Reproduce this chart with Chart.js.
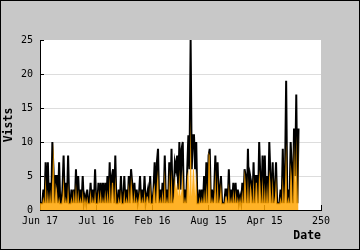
<!DOCTYPE html>
<html>
<head>
<meta charset="utf-8">
<script src="https://cdn.jsdelivr.net/npm/chart.js@4/dist/chart.umd.min.js"></script>
<style>
html,body{margin:0;padding:0;background:#c8c8c8;}
#wrap{width:360px;height:250px;position:relative;}
</style>
</head>
<body>
<div id="wrap"><canvas id="c" width="360" height="250"></canvas></div>
<script>
// x tick labels (at 0, 50, 100, 150, 200, 250)
const xTickLabels = ["Jun 17", "Jul 16", "Feb 16", "Aug 15", "Apr 15", "250"];

// Visits (black line), one value per day index 0..230
const visits = [
 1,1,1,3,1,7,1,7,1,4, 1,10,6,1,5,5,1,7,1,1,
 3,8,1,4,1,8,1,1,3,1, 3,1,6,1,5,1,3,1,5,1,
 2,1,3,1,1,4,1,3,1,6, 1,1,4,1,4,1,4,1,4,1,
 5,1,7,1,5,6,1,8,1,1, 3,1,5,1,1,5,1,3,1,5,
 1,6,4,1,4,1,3,1,2,5, 1,3,1,5,1,2,3,1,5,1,
 1,3,7,1,7,9,1,3,1,4, 1,8,1,3,1,7,1,9,1,3,
 7,6,8,3,10,3,9,10,1,3, 1,6,11,6,25,6,11,11,6,10,
 1,1,3,1,3,1,5,1,7,1, 8,9,1,3,1,3,8,1,7,1,
 3,5,1,1,1,3,3,1,6,1, 3,1,4,1,4,1,3,1,2,1,
 4,1,6,5,1,9,1,5,4,1, 7,1,5,5,1,10,5,1,8,1,
 8,1,5,1,10,5,1,7,1,3, 7,1,1,1,3,1,9,1,5,19,
 1,3,1,10,6,1,12,5,17,1, 12
];

// Visitors (orange area), one value per day index 0..230
const visitors = [
 1,1,1,2,1,5,1,3,1,3, 1,5,10,1,4,3,1,2,1,1,
 2,5,1,2,1,4,1,1,2,1, 3,1,4,1,3,1,2,1,3,1,
 2,1,2,1,1,3,1,2,1,3, 1,1,3,1,3,1,2,1,3,1,
 3,1,5,1,4,4,1,5,1,1, 2,1,3,1,1,3,1,2,1,4,
 1,5,3,1,3,1,2,1,2,3, 1,2,1,3,1,2,2,1,4,1,
 1,3,4,1,4,6,1,2,1,3, 1,6,1,2,1,6,1,6,1,2,
 5,3,4,2,6,2,3,6,1,2, 1,5,6,2,13.5,2,6,6,2,6,
 1,1,2,1,2,1,3,1,4,1, 8.5,8,1,2,1,2,6,1,5,1,
 2,4,1,1,1,2,2,1,4,1, 2,1,3,1,3,1,2,1,2,1,
 3,1,6,4,1,5,1,4,3,1, 5,1,4,4,1,6,4,1,5,1,
 4,1,4,1,6,4,1,5,1,2, 5,1,1,1,2,1,5,1,4,10,
 1,2,1,7,5,1,10,4,11,1, 11.5
];

const yTicks = [0, 5, 10, 15, 20, 25];

const MONO = "'DejaVu Sans Mono', monospace";

const bgPlugin = {
  id: 'bg',
  beforeDraw(chart) {
    const ctx = chart.ctx, a = chart.chartArea;
    ctx.save();
    ctx.fillStyle = '#c8c8c8';
    ctx.fillRect(0, 0, chart.width, chart.height);
    ctx.fillStyle = '#ffffff';
    ctx.fillRect(a.left, a.top, a.right - a.left, a.bottom - a.top);
    ctx.restore();
  },
  afterDraw(chart) {
    const ctx = chart.ctx;
    ctx.save();
    ctx.strokeStyle = '#000';
    ctx.lineWidth = 1;
    ctx.strokeRect(0.5, 0.5, chart.width - 1, chart.height - 1);
    ctx.restore();
  }
};

new Chart(document.getElementById('c'), {
  type: 'line',
  data: {
    datasets: [
      {
        label: 'Visitors',
        data: visitors.map((v, i) => ({x: i, y: v})),
        borderColor: 'rgba(255,165,0,0)',
        backgroundColor: 'rgba(255,165,0,0.85)',
        borderWidth: 0,
        fill: 'origin',
        pointRadius: 0,
        tension: 0
      },
      {
        label: 'Visits',
        data: visits.map((v, i) => ({x: i, y: v})),
        borderColor: '#000000',
        backgroundColor: 'transparent',
        borderWidth: 2,
        fill: false,
        pointRadius: 0,
        tension: 0
      }
    ]
  },
  plugins: [bgPlugin],
  options: {
    responsive: false,
    animation: false,
    events: [],
    layout: { padding: { left: 0, right: 39, top: 40, bottom: 0 } },
    plugins: { legend: { display: false }, tooltip: { enabled: false } },
    scales: {
      x: {
        type: 'linear',
        min: 0,
        max: 250,
        afterFit(s) { s.height = 40; },
        afterBuildTicks(s) { s.ticks = xTickLabels.map((_, i) => ({ value: i * 50 })); },
        ticks: {
          autoSkip: false,
          maxRotation: 0,
          padding: 10,
          color: '#000',
          font: { family: MONO, size: 10 },
          callback: (v) => xTickLabels[Math.round(v / 50)]
        },
        grid: { drawOnChartArea: false, drawTicks: true, tickLength: -5, tickColor: '#000', color: '#000' },
        border: { display: true, color: '#000', width: 1 },
        title: {
          display: true, text: 'Date', align: 'end', color: '#000',
          font: { family: MONO, size: 11.5, weight: 'bold' },
          padding: { top: 0, bottom: 7 }
        }
      },
      y: {
        min: 0,
        max: 25,
        afterFit(s) { s.width = 40; },
        ticks: {
          stepSize: 1,
          autoSkip: false,
          padding: 11,
          color: '#000',
          font: { family: MONO, size: 10 },
          callback: (v) => (yTicks.includes(v) ? String(v) : null)
        },
        grid: {
          drawTicks: true,
          tickLength: -4,
          tickColor: '#000',
          color: (c) => (c.tick && c.tick.value % 5 === 0 && c.tick.value > 0 && c.tick.value < 25) ? '#dddddd' : 'transparent'
        },
        border: { display: true, color: '#000', width: 1 },
        title: {
          display: true, text: 'Vists', color: '#000',
          font: { family: MONO, size: 11.5, weight: 'bold' },
          padding: { top: 2, bottom: 0 }
        }
      }
    }
  }
});
</script>
</body>
</html>
